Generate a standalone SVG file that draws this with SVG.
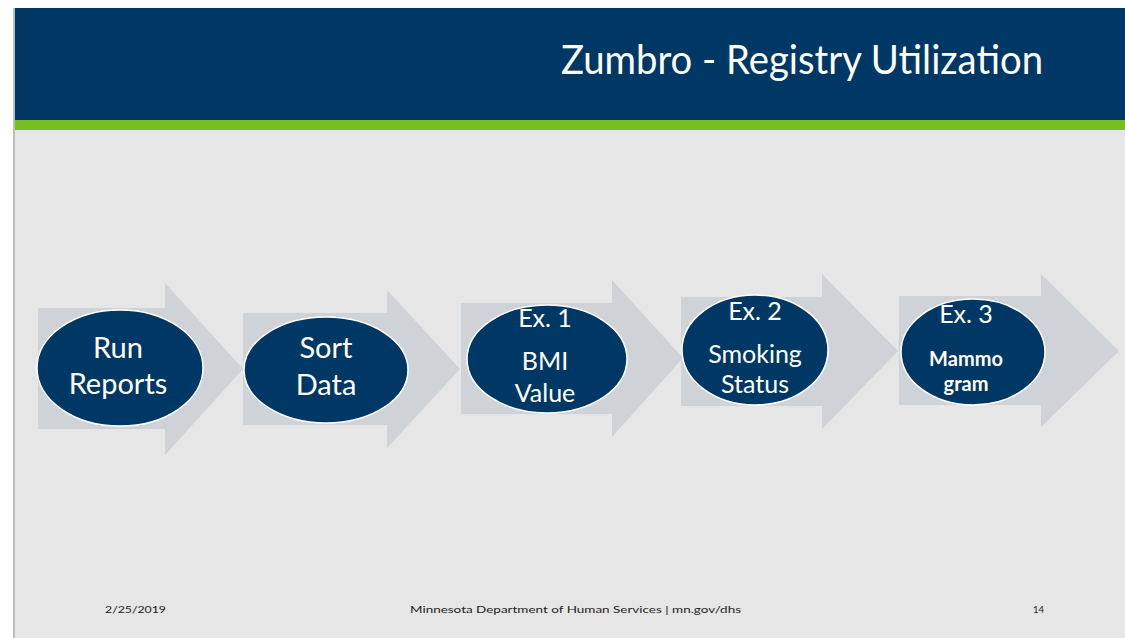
<svg xmlns="http://www.w3.org/2000/svg" width="1125" height="638" viewBox="0 0 1125 638">
  <defs>
    <style>
      .band { fill: #003865; }
      .accent { fill: #78be21; }
      .body { fill: #e6e6e6; }
      .edge { fill: #bdbdbd; }
      .chevron { fill: #cfd2d6; }
      .oval { fill: #003865; stroke: #ffffff; stroke-width: 1.5; }
      .title { font-family: "Lato", "Open Sans", "Liberation Sans", sans-serif; font-size: 40px; fill: #ffffff; }
      .lbl { font-family: "Lato", "Open Sans", "Liberation Sans", sans-serif; fill: #ffffff; text-anchor: middle; }
      .big { font-size: 29px; }
      .mid { font-size: 25px; }
      .small { font-size: 20px; font-weight: bold; }
      .foot { font-family: "Lato", "Liberation Sans", sans-serif; font-size: 10px; fill: #222222; }
    </style>
  </defs>

  <!-- page background -->
  <rect x="0" y="0" width="1125" height="638" fill="#ffffff"/>
  <rect class="body" x="14" y="8" width="1111" height="630"/>
  <rect class="edge" x="13" y="8" width="2" height="630"/>

  <!-- header -->
  <rect class="band" x="15" y="8" width="1110" height="112"/>
  <rect class="accent" x="15" y="120" width="1110" height="10"/>
  <text class="title" x="561" y="74" textLength="482" lengthAdjust="spacingAndGlyphs">Zumbro - Registry Utilization</text>

  <!-- process chevrons -->
  <g id="connectors">
    <polygon class="chevron" points="38,308 165,308 165,283 243,369 165,455 165,429 38,429"/>
    <polygon class="chevron" points="243,313 387,313 387,290 460,369 387,448 387,425 243,425"/>
    <polygon class="chevron" points="461,303 612,303 612,280 683,358 612,437 612,414 461,414"/>
    <polygon class="chevron" points="681,297 822,297 822,274 898,351 822,429 822,406 681,406"/>
    <polygon class="chevron" points="899,296 1041,296 1041,274 1119,351 1041,427 1041,405 899,405"/>
  </g>

  <g id="step-run-reports">
    <ellipse class="oval" cx="120" cy="368" rx="83" ry="58"/>
    <text class="lbl big" x="118" y="358">Run</text>
    <text class="lbl big" x="118" y="394">Reports</text>
  </g>

  <g id="step-sort-data">
    <ellipse class="oval" cx="326" cy="370" rx="82" ry="53"/>
    <text class="lbl big" x="326" y="358">Sort</text>
    <text class="lbl big" x="326" y="395">Data</text>
  </g>

  <g id="step-bmi">
    <ellipse class="oval" cx="547" cy="359" rx="80" ry="54"/>
    <text class="lbl mid" x="545" y="327">Ex. 1</text>
    <text class="lbl mid" x="545" y="370">BMI</text>
    <text class="lbl mid" x="545" y="402">Value</text>
  </g>

  <g id="step-smoking">
    <ellipse class="oval" cx="755" cy="350" rx="73" ry="55"/>
    <text class="lbl mid" x="755" y="320">Ex. 2</text>
    <text class="lbl mid" x="755" y="363">Smoking</text>
    <text class="lbl mid" x="755" y="393">Status</text>
  </g>

  <g id="step-mammogram">
    <ellipse class="oval" cx="973" cy="352" rx="72" ry="53"/>
    <text class="lbl mid" x="966" y="323">Ex. 3</text>
    <text class="lbl small" x="966" y="366">Mammo</text>
    <text class="lbl small" x="966" y="391">gram</text>
  </g>

  <!-- footer -->
  <text class="foot" x="105" y="613" textLength="61" lengthAdjust="spacingAndGlyphs">2/25/2019</text>
  <text class="foot" x="410" y="613" textLength="331" lengthAdjust="spacingAndGlyphs">Minnesota Department of Human Services | mn.gov/dhs</text>
  <text class="foot" x="1033" y="613" textLength="11" lengthAdjust="spacingAndGlyphs">14</text>
</svg>
